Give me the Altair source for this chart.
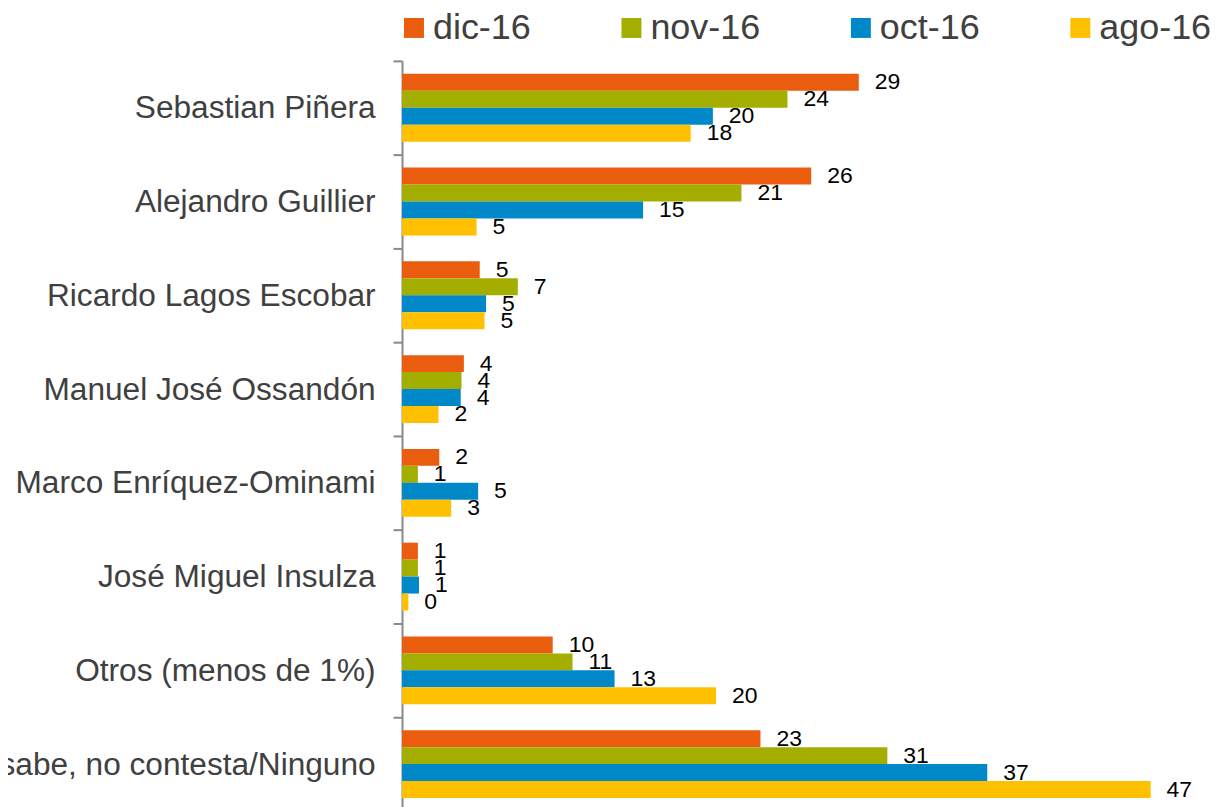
import altair as alt
import pandas as pd

categories = [
    "Sebastian Piñera",
    "Alejandro Guillier",
    "Ricardo Lagos Escobar",
    "Manuel José Ossandón",
    "Marco Enríquez-Ominami",
    "José Miguel Insulza",
    "Otros (menos de 1%)",
    "No sabe, no contesta/Ninguno",
]
series = ["dic-16", "nov-16", "oct-16", "ago-16"]
dic_16 = [28.8, 25.8, 4.9, 3.9, 2.35, 1.0, 9.5, 22.6]
nov_16 = [24.3, 21.4, 7.3, 3.75, 1.0, 1.0, 10.75, 30.6]
oct_16 = [19.6, 15.2, 5.3, 3.7, 4.8, 1.07, 13.4, 36.9]
ago_16 = [18.2, 4.7, 5.2, 2.3, 3.1, 0.4, 19.8, 47.2]
colors = ["#EA5D0E", "#A3AE00", "#0088C9", "#FFC000"]

values_by_series = [dic_16, nov_16, oct_16, ago_16]
rows = []
for s, vals in zip(series, values_by_series):
    for c, v in zip(categories, vals):
        rows.append({"categoria": c, "serie": s, "valor": v})
df = pd.DataFrame(rows)

FONT = "Liberation Sans"

y_enc = alt.Y(
    "categoria:N",
    sort=categories,
    scale=alt.Scale(paddingInner=0, paddingOuter=0),
    axis=alt.Axis(
        title=None,
        labelFont=FONT,
        labelFontSize=31.7,
        labelColor="#404040",
        labelLimit=1000,
        labelPadding=18,
        tickSize=9,
        tickWidth=2,
        tickColor="#898989",
        tickBand="extent",
        domainColor="#898989",
        domainWidth=2,
        grid=False,
    ),
)
yoff_enc = alt.YOffset(
    "serie:N",
    sort=series,
    scale=alt.Scale(domain=series, paddingInner=0, paddingOuter=0.765),
)
x_enc = alt.X("valor:Q", scale=alt.Scale(domain=[0, 50], nice=False, zero=True), axis=None)

bars = alt.Chart(df).mark_bar(size=17).encode(
    x=x_enc,
    y=y_enc,
    yOffset=yoff_enc,
    color=alt.Color(
        "serie:N",
        scale=alt.Scale(domain=series, range=colors),
        legend=alt.Legend(
            title=None,
            orient="none",
            legendX=-6,
            legendY=-51,
            direction="horizontal",
            symbolType="square",
            symbolSize=400,
            symbolStrokeWidth=0,
            labelFont=FONT,
            labelFontSize=36,
            labelColor="#404040",
            labelOffset=1,
            columnPadding=82,
            padding=0,
            labelLimit=400,
        ),
    ),
)

labels = alt.Chart(df).mark_text(
    align="left", baseline="middle", dx=16, fontSize=23, font=FONT, color="#000000"
).encode(
    x=x_enc,
    y=y_enc,
    yOffset=yoff_enc,
    text=alt.Text("valor:Q", format=".0f"),
)

chart = (
    alt.layer(bars, labels)
    .properties(
        width=795,
        height=752,
        autosize=alt.AutoSizeParams(type="none"),
        padding={"left": 395, "top": 52, "right": 19, "bottom": 0},
        background="#ffffff",
    )
    .configure_view(strokeWidth=0)
)

chart.save("out.html", embed_options={"renderer": "svg", "actions": False})
